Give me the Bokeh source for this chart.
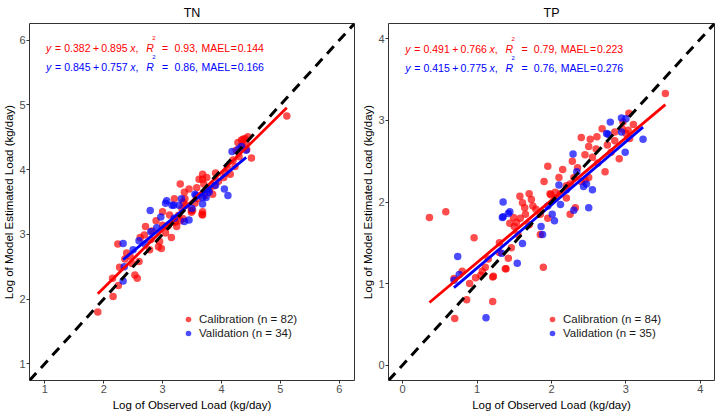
from bokeh.plotting import figure
from bokeh.layouts import row
from bokeh.models import Range1d, FixedTicker, Slope, Label, Legend, LegendItem
from bokeh.embed import file_html
from bokeh.resources import INLINE

# ---------------- data ----------------
tn_cal_x = [1.90, 2.16, 2.25, 2.15, 2.27, 2.53, 2.57, 2.39, 2.24, 2.36,
            2.45, 2.60, 2.69, 2.71, 2.78, 2.89, 2.93, 2.95, 3.00, 3.05,
            3.08, 2.82, 3.12, 3.15, 3.22, 3.24, 3.30, 3.30, 3.37, 3.35,
            3.40, 3.33, 3.38, 3.49, 3.51, 3.45, 3.55, 3.60, 3.68, 3.68,
            3.70, 3.68, 3.68, 3.72, 3.80, 3.85, 3.90, 3.95, 4.04, 4.07,
            4.15, 4.23, 4.20, 4.30, 4.34, 4.37, 4.40, 4.45, 4.42, 4.43,
            4.51, 5.11, 4.35, 4.25, 3.10, 3.19, 3.27, 3.35, 3.49, 3.67,
            2.62, 2.80, 3.00, 3.20, 3.58, 3.75, 3.88, 4.10, 4.28, 2.48,
            2.98, 3.62]
tn_cal_y = [1.80, 2.04, 2.21, 2.32, 2.49, 2.37, 2.32, 2.71, 2.85, 2.62,
            2.66, 2.58, 2.99, 3.12, 2.76, 3.21, 2.81, 2.89, 3.14, 3.02,
            3.12, 3.05, 3.30, 2.95, 3.19, 3.12, 3.21, 3.78, 3.65, 3.50,
            3.45, 3.40, 3.55, 3.37, 3.37, 3.70, 3.48, 3.55, 3.93, 3.85,
            3.78, 3.35, 3.30, 3.60, 3.70, 3.62, 3.95, 3.82, 3.88, 3.95,
            3.93, 4.05, 4.15, 4.20, 4.46, 4.47, 4.48, 4.51, 4.40, 4.31,
            4.18, 4.83, 4.38, 4.30, 3.14, 3.19, 3.29, 3.24, 3.34, 3.31,
            2.95, 2.92, 3.35, 3.55, 3.72, 3.88, 3.75, 4.02, 4.42, 2.55,
            2.78, 3.85]
tn_val_x = [2.33, 2.33, 2.35, 2.50, 2.79, 2.80, 2.97, 3.05, 3.16, 3.19,
            3.28, 3.37, 3.45, 3.07, 3.32, 3.57, 3.68, 3.74, 3.79, 3.90,
            4.11, 4.18, 4.29, 4.42, 4.34, 3.55, 3.77, 3.68, 2.90, 3.20,
            2.60, 3.50, 4.05, 2.70]
tn_val_y = [2.28, 2.86, 2.50, 2.76, 3.37, 3.04, 3.27, 3.48, 3.45, 3.45,
            3.45, 3.20, 3.22, 3.52, 3.55, 3.60, 3.47, 3.57, 3.65, 3.76,
            3.60, 4.28, 4.32, 4.30, 4.36, 3.62, 3.68, 3.57, 3.10, 3.25,
            2.90, 3.40, 3.70, 2.85]

tp_cal_x = [0.36, 0.58, 0.96, 0.70, 0.86, 1.21, 0.69, 0.98, 1.07, 1.11,
            1.05, 1.22, 1.38, 1.42, 1.30, 1.46, 1.89, 1.44, 1.50, 1.58,
            1.65, 1.90, 1.575, 1.61, 1.73, 1.64, 1.49, 1.53, 1.79, 1.85,
            1.99, 2.05, 2.12, 2.20, 2.40, 2.52, 2.61, 2.50, 1.95, 1.98,
            2.05, 2.20, 2.25, 2.30, 2.35, 2.40, 2.45, 2.50, 2.72, 2.32,
            2.25, 3.53, 3.04, 2.96, 2.85, 3.00, 3.03, 2.80, 2.91, 2.62,
            1.39, 1.21, 0.90, 0.80, 1.55, 1.70, 1.75, 2.10, 2.15, 2.28,
            2.55, 2.60, 2.75, 2.85, 2.95, 3.10, 2.68, 1.30, 1.15, 1.85,
            1.95, 2.45, 3.05, 1.70]
tp_cal_y = [1.81, 1.88, 1.56, 0.57, 0.80, 0.78, 1.06, 1.07, 1.15, 1.20,
            1.10, 1.09, 1.18, 1.31, 1.38, 1.44, 1.20, 1.74, 1.70, 1.80,
            1.85, 2.25, 2.07, 1.99, 2.03, 1.93, 1.81, 1.75, 1.91, 1.85,
            2.09, 2.05, 2.10, 2.05, 2.79, 2.77, 2.80, 2.68, 2.44, 2.10,
            2.12, 2.20, 2.22, 2.30, 2.42, 2.25, 2.27, 2.30, 2.37, 1.93,
            1.85, 3.33, 3.09, 2.98, 2.86, 2.84, 2.88, 2.61, 2.53, 2.48,
            1.18, 1.08, 1.00, 1.15, 1.60, 1.72, 1.95, 2.30, 2.40, 2.50,
            2.55, 2.65, 2.70, 2.75, 2.90, 2.95, 2.90, 1.50, 1.30, 1.60,
            1.80, 2.58, 2.78, 2.10]
tp_val_x = [0.74, 0.69, 0.76, 1.12, 1.33, 1.54, 1.61, 1.35, 1.44, 1.86,
            1.88, 1.35, 1.42, 1.34, 2.10, 2.12, 2.01, 2.04, 2.47, 2.29,
            2.34, 2.43, 2.50, 2.30, 2.76, 2.79, 2.94, 2.74, 2.94, 3.23,
            2.99, 3.00, 2.55, 2.20, 1.95]
tp_val_y = [1.33, 1.04, 1.11, 0.58, 1.37, 1.25, 1.49, 1.82, 1.88, 1.70,
            1.60, 2.00, 1.86, 1.81, 2.21, 1.97, 1.85, 1.77, 2.22, 2.59,
            2.37, 2.19, 1.93, 1.90, 2.83, 2.98, 3.03, 2.84, 2.86, 2.77,
            2.61, 3.02, 2.15, 2.15, 1.95]

# fit statistics: [calibration, validation]
tn_intercept = [0.382, 0.845]
tn_slope = [0.895, 0.757]
tn_r2 = [0.93, 0.86]
tn_mael = [0.144, 0.166]
tp_intercept = [0.491, 0.415]
tp_slope = [0.766, 0.775]
tp_r2 = [0.79, 0.76]
tp_mael = [0.223, 0.276]

tn_ticks = [1, 2, 3, 4, 5, 6]
tp_ticks = [0, 1, 2, 3, 4]
titles = ["TN", "TP"]
x_label = "Log of Observed Load (kg/day)"
y_label = "Log of Model Estimated Load (kg/day)"

# ---------------- styling helpers ----------------
FONT = "Liberation Sans"
CW = {' ': 278, '=': 584, '+': 584, '.': 278, ',': 278, 'y': 500, 'x': 500,
      'R': 722, 'M': 833, 'A': 667, 'E': 667, 'L': 556}


def tw(s, size):
    return sum(CW.get(c, 556) for c in s) * size / 1000.0


def add_equation(p, x0, y0, a, b, r2, mael, color):
    fs = 10.5
    # (text, style, gap before in em)
    tokens = [("y", "italic", 0), ("=", "normal", 0.35), (f"{a:.3f}", "normal", 0.3),
              ("+", "normal", 0.25), (f"{b:.3f}", "normal", 0.2), ("x", "italic", 0.25),
              (",", "normal", 0.0), ("R", "italic", 0.75)]
    off = 0.0
    for txt, style, gap in tokens:
        off += gap * fs
        p.add_layout(Label(x=x0, y=y0, x_offset=off, text=txt, text_font=FONT,
                           text_font_style=style, text_font_size=f"{fs}px",
                           text_color=color, text_baseline="middle", text_align="left"))
        off += tw(txt, fs)
    p.add_layout(Label(x=x0, y=y0, x_offset=off - 1.5, y_offset=10, text="2", text_font=FONT,
                       text_font_size="6px", text_color=color,
                       text_baseline="middle", text_align="left"))
    off += 2.5
    tokens2 = [("=", "normal", 0.55), (f"{r2:.2f},", "normal", 0.6),
               ("MAEL", "normal", 0.35), ("=", "normal", 0.05), (f"{mael:.3f}", "normal", 0.08)]
    for txt, style, gap in tokens2:
        off += gap * fs
        p.add_layout(Label(x=x0, y=y0, x_offset=off, text=txt, text_font=FONT,
                           text_font_style=style, text_font_size=f"{fs}px",
                           text_color=color, text_baseline="middle", text_align="left"))
        off += tw(txt, fs)


def make_panel(title, cx, cy, vx, vy, rng, ticks, icpt, slp, r2, mael,
               eq_x, eq_y, b_left, fw, b_right, leg_x):
    p = figure(frame_width=fw, frame_height=357, x_range=Range1d(*rng), y_range=Range1d(*rng),
               output_backend="svg", toolbar_location=None, title=title,
               min_border_left=b_left, min_border_right=b_right,
               min_border_top=19, min_border_bottom=29,
               background_fill_color="white", border_fill_color="white")
    p.title.align = "center"
    p.title.text_font = FONT
    p.title.text_font_size = "12.5px"
    p.title.text_font_style = "normal"
    p.title.text_color = "black"
    p.title.text_line_height = 0.9
    p.title.standoff = 7
    p.xgrid.visible = False
    p.ygrid.visible = False
    p.outline_line_color = "#333333"
    p.outline_line_width = 1
    p.xaxis.axis_label = x_label
    p.yaxis.axis_label = y_label
    for ax in (p.xaxis[0], p.yaxis[0]):
        ax.ticker = FixedTicker(ticks=ticks)
        ax.axis_line_color = None
        ax.major_tick_out = 3
        ax.major_tick_in = 0
        ax.minor_tick_out = 0
        ax.minor_tick_in = 0
        ax.major_tick_line_color = "#333333"
        ax.major_label_text_color = "#4D4D4D"
        ax.major_label_text_font = FONT
        ax.major_label_text_font_size = "11px"
        ax.major_label_standoff = 1
        ax.axis_label_text_font = FONT
        ax.axis_label_text_font_size = "11.5px"
        ax.axis_label_text_font_style = "normal"
        ax.axis_label_text_color = "black"
        ax.axis_label_standoff = 1
    p.xaxis[0].axis_label_standoff = 3

    rc = p.scatter(cx, cy, size=7.5, fill_color="red", fill_alpha=0.7, line_color=None)
    rv = p.scatter(vx, vy, size=7.5, fill_color="blue", fill_alpha=0.7, line_color=None)

    for (xs, col, a, b) in ((cx, "red", icpt[0], slp[0]), (vx, "blue", icpt[1], slp[1])):
        x0, x1 = min(xs), max(xs)
        p.line([x0, x1], [a + b * x0, a + b * x1], line_color=col, line_width=2.8)

    p.add_layout(Slope(gradient=1, y_intercept=0, line_color="black",
                       line_width=3, line_dash="10 7"))

    add_equation(p, eq_x, eq_y[0], icpt[0], slp[0], r2[0], mael[0], "#FF0000")
    add_equation(p, eq_x, eq_y[1], icpt[1], slp[1], r2[1], mael[1], "#0000FF")

    legend = Legend(items=[LegendItem(label=f"Calibration (n = {len(cx)})", renderers=[rc]),
                           LegendItem(label=f"Validation (n = {len(vx)})", renderers=[rv])],
                    location=(leg_x, 40), padding=0, margin=0, spacing=0,
                    label_height=14, glyph_height=14, glyph_width=14,
                    label_standoff=4, label_text_font=FONT,
                    label_text_font_size="11.5px", label_text_color="#1A1A1A",
                    background_fill_alpha=0, border_line_color=None)
    p.add_layout(legend)
    return p


p1 = make_panel(titles[0], tn_cal_x, tn_cal_y, tn_val_x, tn_val_y, (0.74, 6.26), tn_ticks,
                tn_intercept, tn_slope, tn_r2, tn_mael, 1.02, (5.88, 5.59), 23, 325, 4, 152)
p2 = make_panel(titles[1], tp_cal_x, tp_cal_y, tp_val_x, tp_val_y, (-0.19, 4.19), tp_ticks,
                tp_intercept, tp_slope, tp_r2, tp_mael, 0.035, (3.88, 3.65), 30, 326, 2, 157)

layout = row(p1, p2)
open("out.html", "w").write(file_html(layout, INLINE))
